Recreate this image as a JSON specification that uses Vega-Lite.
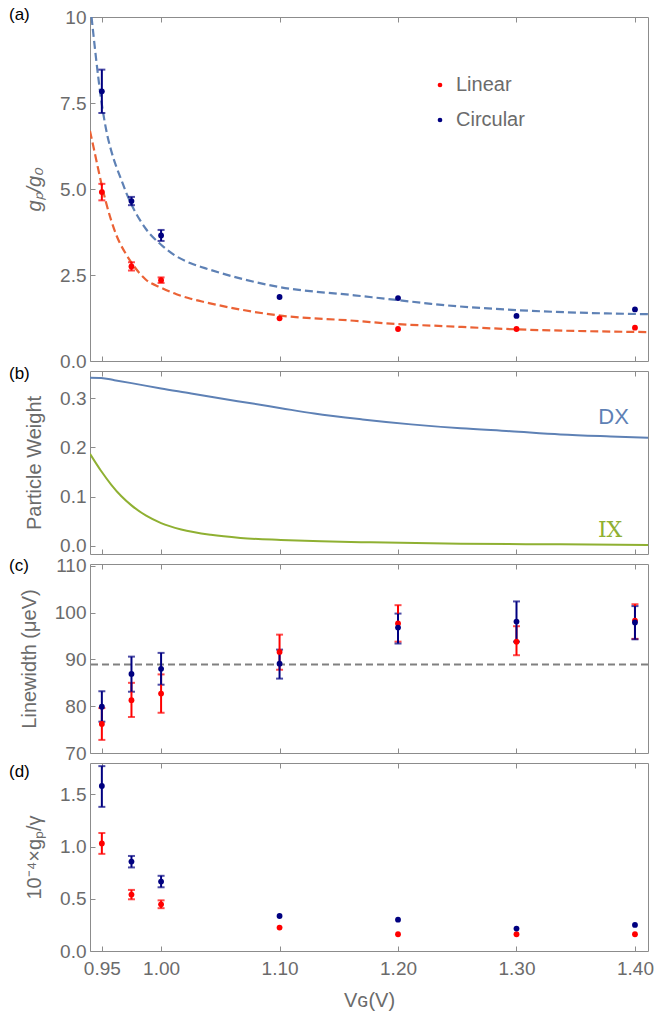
{
  "$schema": "https://vega.github.io/schema/vega-lite/v6.json",
  "padding": {"left": 8, "top": 5, "right": 4, "bottom": 7},
  "background": "white",
  "config": {
    "font": "Liberation Sans",
    "view": {"stroke": "#8c8c8c", "strokeWidth": 1},
    "axis": {"domain": false, "grid": false, "tickSize": -5, "tickColor": "#8c8c8c", "tickWidth": 1,
      "labelFont": "Liberation Sans", "labelFontSize": 19, "labelColor": "#6b6b6b",
      "titleFont": "Liberation Sans", "titleFontSize": 20, "titleColor": "#6b6b6b", "titleFontWeight": "normal"},
    "axisY": {"labelPadding": 9, "titlePadding": 15},
    "axisX": {"labelPadding": 13, "titlePadding": 12},
    "title": {"anchor": "start", "frame": "group", "orient": "top", "fontSize": 17, "fontWeight": "normal", "color": "black", "font": "Liberation Sans", "baseline": "middle", "offset": 0, "dx": -81}
  },
  "datasets": {
    "fitCirc": [
      {"x": 0.9413, "y": 10.0}, {"x": 0.9452, "y": 8.77}, {"x": 0.9494, "y": 7.6}, {"x": 0.9536, "y": 6.73},
      {"x": 0.958, "y": 6.1}, {"x": 0.962, "y": 5.67}, {"x": 0.9663, "y": 5.28}, {"x": 0.9705, "y": 4.9},
      {"x": 0.975, "y": 4.55}, {"x": 0.9874, "y": 3.83}, {"x": 1.0, "y": 3.38}, {"x": 1.0126, "y": 3.05},
      {"x": 1.025, "y": 2.84}, {"x": 1.037, "y": 2.7}, {"x": 1.098, "y": 2.16}, {"x": 1.163, "y": 1.91},
      {"x": 1.2, "y": 1.77}, {"x": 1.228, "y": 1.66}, {"x": 1.3, "y": 1.48}, {"x": 1.411, "y": 1.36}
    ],
    "fitLin": [
      {"x": 0.94, "y": 6.69}, {"x": 0.9452, "y": 5.86}, {"x": 0.9494, "y": 5.19}, {"x": 0.9536, "y": 4.6},
      {"x": 0.962, "y": 3.68}, {"x": 0.9705, "y": 3.1}, {"x": 0.975, "y": 2.86}, {"x": 0.987, "y": 2.37},
      {"x": 1.0, "y": 2.13}, {"x": 1.013, "y": 1.94}, {"x": 1.025, "y": 1.81}, {"x": 1.037, "y": 1.71},
      {"x": 1.098, "y": 1.33}, {"x": 1.163, "y": 1.17}, {"x": 1.2, "y": 1.07}, {"x": 1.228, "y": 1.03},
      {"x": 1.3, "y": 0.92}, {"x": 1.411, "y": 0.84}
    ],
    "ptsA": [
      {"x": 0.95, "y": 4.91, "lo": 4.67, "hi": 5.15, "series": "Linear"},
      {"x": 0.975, "y": 2.75, "lo": 2.63, "hi": 2.87, "series": "Linear"},
      {"x": 1.0, "y": 2.35, "lo": 2.27, "hi": 2.43, "series": "Linear"},
      {"x": 1.1, "y": 1.24, "lo": null, "hi": null, "series": "Linear"},
      {"x": 1.2, "y": 0.93, "lo": null, "hi": null, "series": "Linear"},
      {"x": 1.3, "y": 0.93, "lo": null, "hi": null, "series": "Linear"},
      {"x": 1.4, "y": 0.97, "lo": null, "hi": null, "series": "Linear"},
      {"x": 0.95, "y": 7.84, "lo": 7.21, "hi": 8.47, "series": "Circular"},
      {"x": 0.975, "y": 4.65, "lo": 4.53, "hi": 4.77, "series": "Circular"},
      {"x": 1.0, "y": 3.65, "lo": 3.49, "hi": 3.81, "series": "Circular"},
      {"x": 1.1, "y": 1.86, "lo": null, "hi": null, "series": "Circular"},
      {"x": 1.2, "y": 1.83, "lo": null, "hi": null, "series": "Circular"},
      {"x": 1.3, "y": 1.31, "lo": null, "hi": null, "series": "Circular"},
      {"x": 1.4, "y": 1.5, "lo": null, "hi": null, "series": "Circular"}
    ],
    "dx": [
      {"x": 0.94, "y": 0.342}, {"x": 0.9494, "y": 0.3415}, {"x": 0.9606, "y": 0.337}, {"x": 0.975, "y": 0.331},
      {"x": 1.0, "y": 0.32}, {"x": 1.0254, "y": 0.31}, {"x": 1.0507, "y": 0.2995}, {"x": 1.076, "y": 0.29},
      {"x": 1.1012, "y": 0.28}, {"x": 1.1293, "y": 0.269}, {"x": 1.17, "y": 0.257}, {"x": 1.211, "y": 0.247},
      {"x": 1.253, "y": 0.239}, {"x": 1.295, "y": 0.233}, {"x": 1.337, "y": 0.2265}, {"x": 1.3795, "y": 0.2225},
      {"x": 1.411, "y": 0.22}
    ],
    "ix": [
      {"x": 0.94, "y": 0.187}, {"x": 0.9494, "y": 0.152}, {"x": 0.958, "y": 0.124}, {"x": 0.9663, "y": 0.101},
      {"x": 0.975, "y": 0.082}, {"x": 0.9874, "y": 0.061}, {"x": 1.0, "y": 0.046}, {"x": 1.017, "y": 0.033},
      {"x": 1.042, "y": 0.022}, {"x": 1.067, "y": 0.0157}, {"x": 1.101, "y": 0.0116}, {"x": 1.135, "y": 0.0088},
      {"x": 1.177, "y": 0.0067}, {"x": 1.253, "y": 0.004}, {"x": 1.337, "y": 0.0027}, {"x": 1.411, "y": 0.0015}
    ],
    "curveLabels": [
      {"x": 1.382, "y": 0.261, "label": "DX", "curve": "DX"},
      {"x": 1.379, "y": 0.031, "label": "IX", "curve": "IX"}
    ],
    "ptsC": [
      {"x": 0.95, "y": 76.2, "lo": 72.8, "hi": 79.6, "series": "Linear"},
      {"x": 0.975, "y": 81.3, "lo": 77.7, "hi": 85.0, "series": "Linear"},
      {"x": 1.0, "y": 82.7, "lo": 78.6, "hi": 86.8, "series": "Linear"},
      {"x": 1.1, "y": 91.6, "lo": 87.8, "hi": 95.3, "series": "Linear"},
      {"x": 1.2, "y": 97.7, "lo": 93.8, "hi": 101.6, "series": "Linear"},
      {"x": 1.3, "y": 93.8, "lo": 90.9, "hi": 97.1, "series": "Linear"},
      {"x": 1.4, "y": 98.3, "lo": 94.4, "hi": 101.8, "series": "Linear"},
      {"x": 0.95, "y": 79.9, "lo": 76.7, "hi": 83.2, "series": "Circular"},
      {"x": 0.975, "y": 86.9, "lo": 83.1, "hi": 90.6, "series": "Circular"},
      {"x": 1.0, "y": 88.0, "lo": 84.6, "hi": 91.4, "series": "Circular"},
      {"x": 1.1, "y": 89.1, "lo": 85.9, "hi": 92.1, "series": "Circular"},
      {"x": 1.2, "y": 96.8, "lo": 93.4, "hi": 99.8, "series": "Circular"},
      {"x": 1.3, "y": 98.1, "lo": 93.8, "hi": 102.4, "series": "Circular"},
      {"x": 1.4, "y": 97.9, "lo": 94.3, "hi": 101.4, "series": "Circular"}
    ],
    "meanC": [{"y": 88.9}],
    "ptsD": [
      {"x": 0.95, "y": 1.03, "lo": 0.93, "hi": 1.13, "series": "Linear"},
      {"x": 0.975, "y": 0.54, "lo": 0.495, "hi": 0.585, "series": "Linear"},
      {"x": 1.0, "y": 0.447, "lo": 0.41, "hi": 0.485, "series": "Linear"},
      {"x": 1.1, "y": 0.224, "lo": null, "hi": null, "series": "Linear"},
      {"x": 1.2, "y": 0.16, "lo": null, "hi": null, "series": "Linear"},
      {"x": 1.3, "y": 0.16, "lo": null, "hi": null, "series": "Linear"},
      {"x": 1.4, "y": 0.16, "lo": null, "hi": null, "series": "Linear"},
      {"x": 0.95, "y": 1.58, "lo": 1.38, "hi": 1.77, "series": "Circular"},
      {"x": 0.975, "y": 0.856, "lo": 0.8, "hi": 0.91, "series": "Circular"},
      {"x": 1.0, "y": 0.665, "lo": 0.61, "hi": 0.72, "series": "Circular"},
      {"x": 1.1, "y": 0.335, "lo": null, "hi": null, "series": "Circular"},
      {"x": 1.2, "y": 0.3, "lo": null, "hi": null, "series": "Circular"},
      {"x": 1.3, "y": 0.215, "lo": null, "hi": null, "series": "Circular"},
      {"x": 1.4, "y": 0.25, "lo": null, "hi": null, "series": "Circular"}
    ]
  },
  "spacing": 10,
  "bounds": "flush",
  "resolve": {"legend": {"color": "independent"}},
  "vconcat": [
    {
      "width": 558, "height": 344,
      "title": {"text": "(a)", "dy": 20},
      "resolve": {"axis": {"x": "independent"}},
      "layer": [
        {
          "data": {"name": "fitCirc"},
          "mark": {"type": "line", "strokeDash": [8, 4], "strokeWidth": 2.2, "color": "#5E81B5", "clip": true, "interpolate": "monotone"},
          "encoding": {
            "x": {"field": "x", "type": "quantitative", "scale": {"domain": [0.94, 1.411], "nice": false, "zero": false},
              "axis": {"orient": "bottom", "values": [0.95, 1.0, 1.1, 1.2, 1.3, 1.4], "labels": false, "title": null}},
            "y": {"field": "y", "type": "quantitative", "title": "gₚ/g₀", "scale": {"domain": [0, 10], "nice": false},
              "axis": {"values": [0, 2.5, 5, 7.5, 10], "labelExpr": "datum.value == 10 ? '10' : format(datum.value, '.1f')", "titleFontStyle": "italic"}}
          }
        },
        {
          "data": {"name": "fitLin"},
          "mark": {"type": "line", "strokeDash": [8, 4], "strokeWidth": 2.2, "color": "#EB6235", "clip": true, "interpolate": "monotone"},
          "encoding": {
            "x": {"field": "x", "type": "quantitative",
              "axis": {"orient": "top", "values": [0.95, 1.0, 1.1, 1.2, 1.3, 1.4], "labels": false, "title": null}},
            "y": {"field": "y", "type": "quantitative", "title": "gₚ/g₀"}
          }
        },
        {
          "data": {"name": "ptsA"},
          "mark": {"type": "point", "filled": true, "opacity": 1, "size": 34, "shape": "circle"},
          "encoding": {
            "x": {"field": "x", "type": "quantitative", "axis": null},
            "y": {"field": "y", "type": "quantitative", "title": "gₚ/g₀"},
            "color": {"field": "series", "type": "nominal", "scale": {"domain": ["Linear", "Circular"], "range": ["#ff0000", "#000080"]},
              "legend": {"title": null, "orient": "none", "legendX": 340, "legendY": 58, "symbolType": "circle", "symbolSize": 22, "symbolStrokeWidth": 0,
                "labelFontSize": 20, "labelColor": "#6b6b6b", "labelFont": "Liberation Sans", "rowPadding": 15, "labelOffset": 6, "padding": 0}}
          }
        },
        {
          "data": {"name": "ptsA"},
          "transform": [{"filter": "isValid(datum.lo)"}],
          "mark": {"type": "errorbar", "ticks": {"size": 7, "thickness": 2}, "thickness": 2},
          "encoding": {
            "x": {"field": "x", "type": "quantitative", "axis": null},
            "y": {"field": "lo", "type": "quantitative", "title": "gₚ/g₀"},
            "y2": {"field": "hi"},
            "color": {"field": "series", "type": "nominal", "scale": {"domain": ["Linear", "Circular"], "range": ["#ff0000", "#000080"]},
              "legend": {"title": null, "orient": "none", "legendX": 340, "legendY": 58, "symbolType": "circle", "symbolSize": 22, "symbolStrokeWidth": 0,
                "labelFontSize": 20, "labelColor": "#6b6b6b", "labelFont": "Liberation Sans", "rowPadding": 15, "labelOffset": 6, "padding": 0}}
          }
        }
      ]
    },
    {
      "width": 558, "height": 183,
      "title": {"text": "(b)", "dy": 16},
      "resolve": {"axis": {"x": "independent"}},
      "layer": [
        {
          "data": {"name": "dx"},
          "mark": {"type": "line", "strokeWidth": 2, "color": "#5E81B5", "clip": true, "interpolate": "monotone"},
          "encoding": {
            "x": {"field": "x", "type": "quantitative", "scale": {"domain": [0.94, 1.411], "nice": false, "zero": false},
              "axis": {"orient": "bottom", "values": [0.95, 1.0, 1.1, 1.2, 1.3, 1.4], "labels": false, "title": null}},
            "y": {"field": "y", "type": "quantitative", "title": "Particle Weight", "scale": {"domain": [-0.017, 0.3557], "nice": false, "zero": false},
              "axis": {"values": [0, 0.1, 0.2, 0.3], "format": ".1f"}}
          }
        },
        {
          "data": {"name": "ix"},
          "mark": {"type": "line", "strokeWidth": 2, "color": "#8FB032", "clip": true, "interpolate": "monotone"},
          "encoding": {
            "x": {"field": "x", "type": "quantitative",
              "axis": {"orient": "top", "values": [0.95, 1.0, 1.1, 1.2, 1.3, 1.4], "labels": false, "title": null}},
            "y": {"field": "y", "type": "quantitative", "title": "Particle Weight"}
          }
        },
        {
          "data": {"name": "curveLabels"},
          "transform": [{"filter": "datum.curve == 'DX'"}],
          "mark": {"type": "text", "fontSize": 22, "color": "#5E81B5", "font": "Liberation Sans", "baseline": "middle", "align": "center"},
          "encoding": {
            "x": {"field": "x", "type": "quantitative", "axis": null},
            "y": {"field": "y", "type": "quantitative", "title": "Particle Weight"},
            "text": {"field": "label"}
          }
        },
        {
          "data": {"name": "curveLabels"},
          "transform": [{"filter": "datum.curve == 'IX'"}],
          "mark": {"type": "text", "fontSize": 22, "color": "#8FB032", "font": "DejaVu Serif", "baseline": "middle", "align": "center"},
          "encoding": {
            "x": {"field": "x", "type": "quantitative", "axis": null},
            "y": {"field": "y", "type": "quantitative", "title": "Particle Weight"},
            "text": {"field": "label"}
          }
        }
      ]
    },
    {
      "width": 558, "height": 189,
      "title": {"text": "(c)", "dy": 22},
      "resolve": {"axis": {"x": "independent"}},
      "layer": [
        {
          "data": {"name": "meanC"},
          "mark": {"type": "rule", "strokeDash": [7, 4], "strokeWidth": 2, "color": "#808080"},
          "encoding": {
            "y": {"field": "y", "type": "quantitative", "title": "Linewidth (μeV)", "scale": {"domain": [70, 110.4], "nice": false, "zero": false},
              "axis": {"values": [70, 80, 90, 100, 110]}}
          }
        },
        {
          "data": {"name": "ptsC"},
          "mark": {"type": "errorbar", "ticks": {"size": 7, "thickness": 2}, "thickness": 2},
          "encoding": {
            "x": {"field": "x", "type": "quantitative", "scale": {"domain": [0.94, 1.411], "nice": false, "zero": false},
              "axis": {"orient": "bottom", "values": [0.95, 1.0, 1.1, 1.2, 1.3, 1.4], "labels": false, "title": null}},
            "y": {"field": "lo", "type": "quantitative", "title": "Linewidth (μeV)"},
            "y2": {"field": "hi"},
            "color": {"field": "series", "type": "nominal", "scale": {"domain": ["Linear", "Circular"], "range": ["#ff0000", "#000080"]}, "legend": null}
          }
        },
        {
          "data": {"name": "ptsC"},
          "mark": {"type": "point", "filled": true, "opacity": 1, "size": 34, "shape": "circle"},
          "encoding": {
            "x": {"field": "x", "type": "quantitative",
              "axis": {"orient": "top", "values": [0.95, 1.0, 1.1, 1.2, 1.3, 1.4], "labels": false, "title": null}},
            "y": {"field": "y", "type": "quantitative", "title": "Linewidth (μeV)"},
            "color": {"field": "series", "type": "nominal", "scale": {"domain": ["Linear", "Circular"], "range": ["#ff0000", "#000080"]}, "legend": null}
          }
        }
      ]
    },
    {
      "width": 558, "height": 188,
      "title": {"text": "(d)", "dy": 22},
      "resolve": {"axis": {"x": "independent"}},
      "layer": [
        {
          "data": {"name": "ptsD"},
          "transform": [{"filter": "isValid(datum.lo)"}],
          "mark": {"type": "errorbar", "ticks": {"size": 7, "thickness": 2}, "thickness": 2},
          "encoding": {
            "x": {"field": "x", "type": "quantitative", "title": "Vɢ(V)", "scale": {"domain": [0.94, 1.411], "nice": false, "zero": false},
              "axis": {"orient": "bottom", "values": [0.95, 1.0, 1.1, 1.2, 1.3, 1.4], "format": ".2f"}},
            "y": {"field": "lo", "type": "quantitative", "title": "10⁻⁴×gₚ/γ", "scale": {"domain": [0, 1.8], "nice": false},
              "axis": {"values": [0, 0.5, 1.0, 1.5], "format": ".1f"}},
            "y2": {"field": "hi"},
            "color": {"field": "series", "type": "nominal", "scale": {"domain": ["Linear", "Circular"], "range": ["#ff0000", "#000080"]}, "legend": null}
          }
        },
        {
          "data": {"name": "ptsD"},
          "mark": {"type": "point", "filled": true, "opacity": 1, "size": 34, "shape": "circle"},
          "encoding": {
            "x": {"field": "x", "type": "quantitative",
              "axis": {"orient": "top", "values": [0.95, 1.0, 1.1, 1.2, 1.3, 1.4], "labels": false, "title": null}},
            "y": {"field": "y", "type": "quantitative", "title": "10⁻⁴×gₚ/γ"},
            "color": {"field": "series", "type": "nominal", "scale": {"domain": ["Linear", "Circular"], "range": ["#ff0000", "#000080"]}, "legend": null}
          }
        }
      ]
    }
  ]
}
